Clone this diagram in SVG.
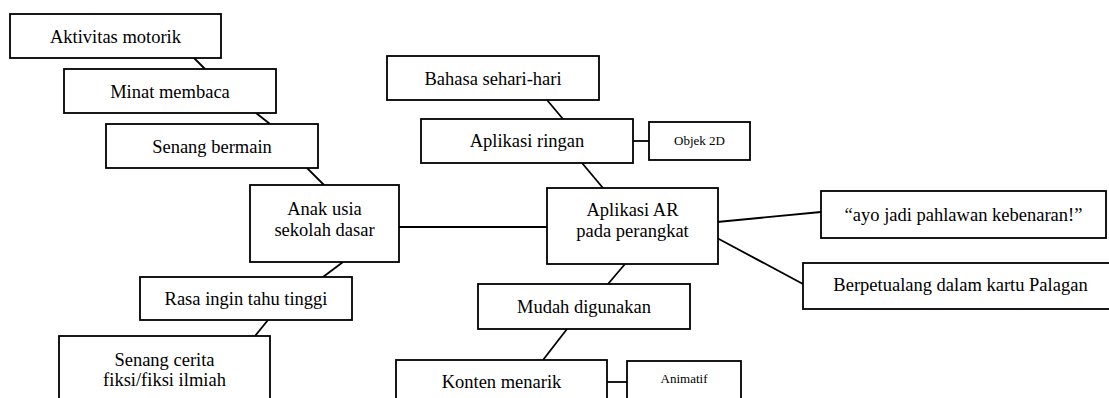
<svg xmlns="http://www.w3.org/2000/svg" width="1109" height="398" viewBox="0 0 1109 398">
<style>
.n rect{fill:#fff;stroke:#000;stroke-width:1.8}
line{stroke:#000;stroke-width:1.8}
text{font-family:"Liberation Serif","Times New Roman",serif;font-size:18.5px;text-anchor:middle;fill:#000}
text.s{font-size:13px}
</style>
<rect x="0" y="0" width="1109" height="398" fill="#fff"/>
<g id="connectors">
<line x1="194" y1="58" x2="205" y2="69"/>
<line x1="256" y1="113" x2="270" y2="124"/>
<line x1="307" y1="168" x2="324" y2="185"/>
<line x1="343" y1="262" x2="323" y2="277"/>
<line x1="268" y1="320" x2="255" y2="336"/>
<line x1="399" y1="227" x2="547" y2="227"/>
<line x1="547" y1="100" x2="563" y2="119"/>
<line x1="633" y1="141" x2="649" y2="141"/>
<line x1="582" y1="163" x2="603" y2="188"/>
<line x1="625" y1="264" x2="608" y2="284"/>
<line x1="567" y1="329" x2="543" y2="360"/>
<line x1="607" y1="382" x2="627" y2="382"/>
<line x1="717" y1="222" x2="821" y2="212"/>
<line x1="717" y1="238" x2="803" y2="284"/>
</g>
<g id="aktivitas" class="n"><rect x="10" y="14" width="211" height="44"/><text x="115.5" y="43">Aktivitas motorik</text></g>
<g id="minat" class="n"><rect x="64" y="69" width="212" height="44"/><text x="170" y="98">Minat membaca</text></g>
<g id="senang-bermain" class="n"><rect x="106" y="124" width="212" height="44"/><text x="212" y="153">Senang bermain</text></g>
<g id="anak" class="n"><rect x="250" y="185" width="149" height="77"/><text x="324.5" y="215">Anak usia</text><text x="324.5" y="236">sekolah dasar</text></g>
<g id="rasa" class="n"><rect x="140" y="277" width="212" height="43"/><text x="246" y="305">Rasa ingin tahu tinggi</text></g>
<g id="senang-cerita" class="n"><rect x="59" y="336" width="211" height="80"/><text x="164.5" y="366">Senang cerita</text><text x="164.5" y="386">fiksi/fiksi ilmiah</text></g>
<g id="bahasa" class="n"><rect x="387" y="56" width="212" height="44"/><text x="493" y="85">Bahasa sehari-hari</text></g>
<g id="ringan" class="n"><rect x="421" y="119" width="212" height="44"/><text x="527" y="147">Aplikasi ringan</text></g>
<g id="objek" class="n"><rect x="649" y="122" width="101" height="38"/><text class="s" x="699.5" y="145">Objek 2D</text></g>
<g id="ar" class="n"><rect x="547" y="188" width="171" height="76"/><text x="632.5" y="216">Aplikasi AR</text><text x="632.5" y="237">pada perangkat</text></g>
<g id="mudah" class="n"><rect x="478" y="284" width="212" height="45"/><text x="584" y="313">Mudah digunakan</text></g>
<g id="konten" class="n"><rect x="396" y="360" width="211" height="60"/><text x="501.5" y="388">Konten menarik</text></g>
<g id="animatif" class="n"><rect x="627" y="361" width="114" height="60"/><text class="s" x="684" y="383">Animatif</text></g>
<g id="ayo" class="n"><rect x="821" y="191" width="285" height="47"/><text x="963.5" y="221">“ayo jadi pahlawan kebenaran!”</text></g>
<g id="berpetualang" class="n"><rect x="803" y="263" width="316" height="46"/><text x="960.5" y="291">Berpetualang dalam kartu Palagan</text></g>
</svg>
